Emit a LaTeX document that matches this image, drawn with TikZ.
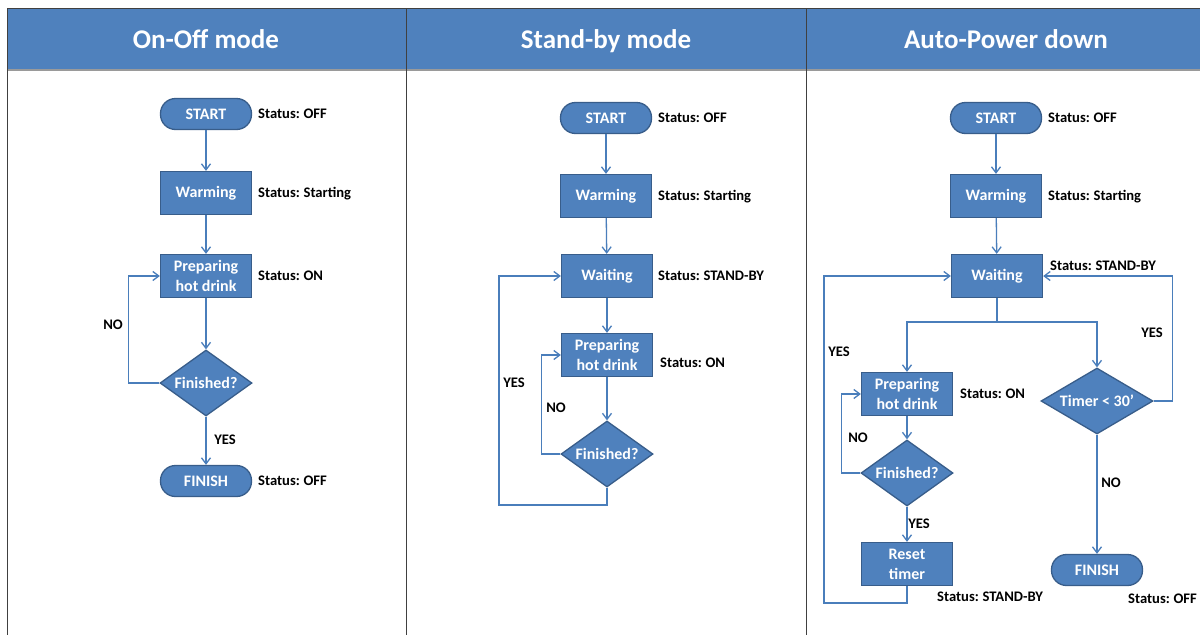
\documentclass[tikz,border=0pt]{standalone}
\usepackage{fontspec}
\setmainfont{Carlito}
\usetikzlibrary{arrows.meta,shapes.geometric}
\definecolor{hdr}{HTML}{4F81BD}
\definecolor{nodeline}{HTML}{385D8A}
\definecolor{arrc}{HTML}{4A7EBB}
\definecolor{gridc}{HTML}{404040}
\definecolor{hline}{HTML}{9A9A9A}
\newcommand\stsp{\spaceskip=0.18em\relax}
\begin{document}
\begin{tikzpicture}[x=1pt,y=-1pt,
 proc/.style={draw=nodeline,line width=1.3pt,fill=hdr,minimum width=91pt,minimum height=43pt,inner sep=0pt,text=white,font=\fontsize{16}{20}\selectfont\bfseries,align=center},
 term/.style={proc,rounded corners=15pt,minimum height=31pt},
 dec/.style={draw=nodeline,line width=1.3pt,fill=hdr,diamond,inner sep=0pt,minimum width=92pt,minimum height=66pt,text=white,font=\fontsize{16}{20}\selectfont\bfseries},
 stat/.style={anchor=mid west,font=\fontsize{14.6}{16}\selectfont\bfseries\stsp,inner sep=0pt,yshift=-1.5pt},
 lab/.style={font=\fontsize{14.6}{16}\selectfont\bfseries,inner sep=0pt},
 arr/.style={draw=arrc,line width=1.3pt,-{Straight Barb[length=6pt,width=9pt]}},
 ln/.style={draw=arrc,line width=1.3pt},
 hdrtxt/.style={anchor=base,text=white,font=\fontsize{27}{30}\selectfont\bfseries}
]
\fill[white] (0,0) rectangle (1200,635);
\useasboundingbox (0,0) rectangle (1200,635);
% table
\fill[hdr] (7,8) rectangle (1200,70);
\draw[hline,line width=1.6pt] (7,70) -- (1200,70);
\draw[gridc,line width=1pt] (1200,8) -- (7,8) -- (7,635);
\draw[gridc,line width=1pt] (406,8) -- (406,635);
\draw[gridc,line width=1pt] (806,8) -- (806,635);
\node[hdrtxt] (h1) at (206,48) {On-Off mode};
\node[hdrtxt] (h2) at (606,48) {Stand-by mode};
\node[hdrtxt] (h3) at (1006,48) {Auto-Power down};

% column 1
\node[term] (s1) at (206,114) {START};
\node[proc] (w1) at (206,193) {Warming};
\node[proc] (p1) at (206,276) {Preparing\\hot drink};
\node[dec] (f1) at (206,383) {\makebox[0pt]{Finished?}};
\node[term] (e1) at (206,481) {FINISH};
\node[stat] (st1a) at (258,115) {Status: OFF};
\node[stat] (st1b) at (258,194) {Status: Starting};
\node[stat] (st1c) at (258,277) {Status: ON};
\node[stat] (st1d) at (258,482) {Status: OFF};
\draw[arr] (s1) -- (w1);
\draw[arr] (w1) -- (p1);
\draw[arr] (p1) -- (f1);
\draw[arr] (f1) -- (e1);
\draw[arr] (f1.west) -- ++(-31,0) |- (p1.west);
\node[lab] (no1) at (113,325) {NO};
\node[lab] (yes1) at (225,440) {YES};

% column 2
\node[term] (s2) at (606,118) {START};
\node[proc] (w2) at (606,196) {Warming};
\node[proc] (wt2) at (607,276) {Waiting};
\node[proc] (p2) at (607,355) {Preparing\\hot drink};
\node[dec] (f2) at (607,454) {\makebox[0pt]{Finished?}};
\node[stat] (st2a) at (658,119) {Status: OFF};
\node[stat] (st2b) at (658,197) {Status: Starting};
\node[stat] (st2c) at (658,277) {Status: STAND-BY};
\node[stat] (st2d) at (660,364) {Status: ON};
\draw[arr] (s2) -- (w2);
\draw[arr] (w2) -- (wt2);
\draw[arr] (wt2) -- (p2);
\draw[arr] (p2) -- (f2);
\draw[arr] (f2.west) -- ++(-19,0) |- (p2.west);
\coordinate (c2) at (499,505);
\draw[arr] (f2.south) |- (c2) |- (wt2.west);
\node[lab] (no2) at (556,408) {NO};
\node[lab] (yes2) at (514,383) {YES};

% column 3
\node[term] (s3) at (996,118) {START};
\node[proc] (w3) at (996,196) {Warming};
\node[proc] (wt3) at (997,276) {Waiting};
\node[proc] (p3) at (907,394) {Preparing\\hot drink};
\node[dec] (f3) at (907,473) {\makebox[0pt]{Finished?}};
\node[proc] (r3) at (907,564) {Reset\\timer};
\node[dec,minimum width=112pt] (t3) at (1097,401) {\makebox[0pt]{Timer < 30’}};
\node[term] (e3) at (1097,570) {FINISH};
\node[stat] (st3a) at (1048,119) {Status: OFF};
\node[stat] (st3b) at (1048,197) {Status: Starting};
\node[stat] (st3c) at (1050,267) {Status: STAND-BY};
\node[stat] (st3d) at (960,395) {Status: ON};
\node[stat] (st3e) at (937,598) {Status: STAND-BY};
\node[stat] (st3f) at (1128,600) {Status: OFF};
\draw[arr] (s3) -- (w3);
\draw[arr] (w3) -- (wt3);
\coordinate (sp3) at (997,322);
\draw[ln] (wt3.south) -- (sp3);
\draw[arr] (sp3) -| (p3.north);
\draw[arr] (sp3) -| (t3.north);
\draw[arr] (p3) -- (f3);
\draw[arr] (f3) -- (r3);
\draw[arr] (f3.west) -- ++(-19,0) |- (p3.west);
\coordinate (c3) at (824,603);
\draw[arr] (r3.south) |- (c3) |- (wt3.west);
\draw[arr] (t3.east) -- ++(19,0) |- (wt3.east);
\draw[arr] (t3) -- (e3);
\node[lab] (yes3a) at (839,352) {YES};
\node[lab] (no3a) at (858,438) {NO};
\node[lab] (yes3b) at (919,524) {YES};
\node[lab] (yes3c) at (1152,333) {YES};
\node[lab] (no3b) at (1111,483) {NO};
\end{tikzpicture}
\end{document}
